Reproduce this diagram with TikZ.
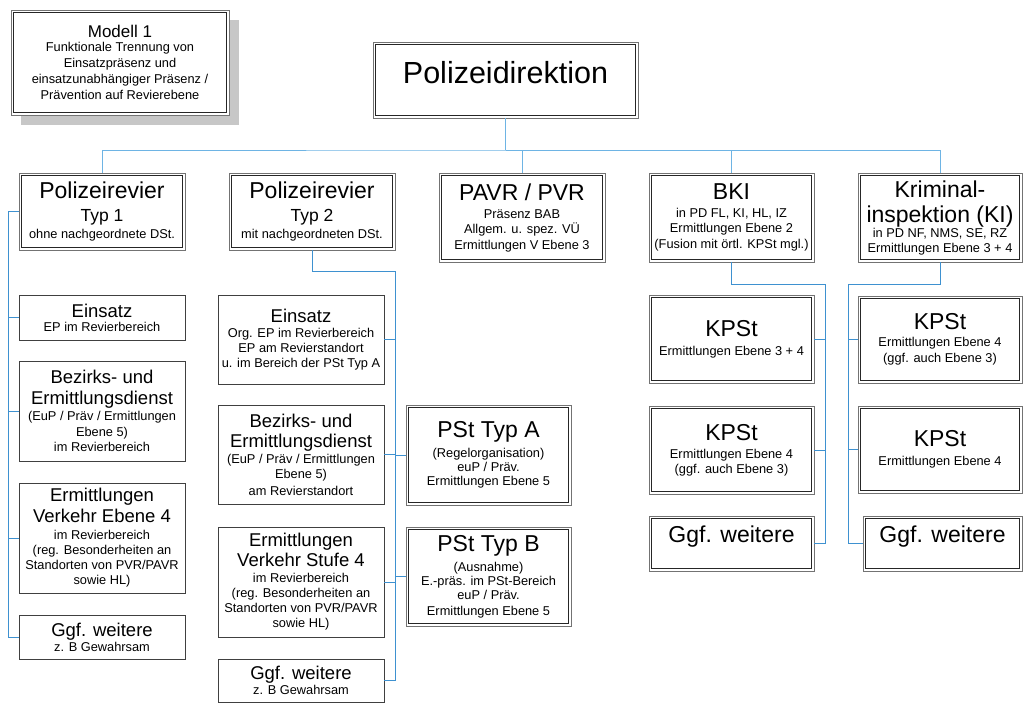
\documentclass[tikz,border=0pt]{standalone}
\usepackage{fontspec}
\setmainfont{Liberation Sans}
\usepackage{tikz}
\usetikzlibrary{shadows}

\definecolor{linkblue}{RGB}{62,145,208}
\definecolor{busblue}{RGB}{110,180,228}

\newcommand{\fpd}{\fontsize{30.5}{34}\selectfont}
\newcommand{\fbig}{\fontsize{23}{26}\selectfont}
\newcommand{\fmodell}{\fontsize{17}{20}\selectfont}
\newcommand{\fmid}{\fontsize{18.5}{21}\selectfont}
\newcommand{\ftyp}{\fontsize{17.5}{20}\selectfont}
\newcommand{\fsmall}{\fontsize{12.8}{15}\selectfont\lineskiplimit=-100pt}

\tikzset{
	box/.style={fill=white, align=center, inner xsep=1pt, inner ysep=1pt, font=\fsmall},
	sbox/.style={box, draw=black!75, line width=0.8pt},
	dbox/.style={box, draw=black!55, line width=0.8pt,
		path picture={\draw[black!85, line width=0.7pt]
			([shift={(2.3pt,2.3pt)}]path picture bounding box.south west) rectangle ([shift={(-2.3pt,-2.3pt)}]path picture bounding box.north east);}},
	link/.style={draw=linkblue, line width=1pt},
	buslink/.style={draw=busblue, line width=1pt},
}

\begin{document}
\begin{tikzpicture}[x=1pt, y=-1pt]
			%%%%% START %%%%%
			\useasboundingbox (0,0) rectangle (1024,705);
			
			\node[dbox, minimum width=218, minimum height=105,
				drop shadow={shadow xshift=10pt, shadow yshift=-10pt, fill=black!22, opacity=1}]
				(modell) at (120,62.5) {{\fmodell Modell 1}\\[-1pt] Funktionale Trennung von\\[1pt] Einsatzpräsenz und\\[1pt] einsatzunabhängiger Präsenz /\\[1pt] Prävention auf Revierebene};
			
			\node[dbox, minimum width=265, minimum height=76, text depth=16pt] (pd) at (505.5,80) {\fpd Polizeidirektion};
			
			% erste Ebene
			\node[dbox, minimum width=166, minimum height=77] (typ1) at (102,211.5) {{\fbig Polizeirevier}\\[8pt] {\ftyp Typ 1}\\[2pt] ohne nachgeordnete DSt.};
			\node[dbox, minimum width=166, minimum height=77] (typ2) at (312,211.5) {{\fbig Polizeirevier}\\[8pt] {\ftyp Typ 2}\\[2pt] mit nachgeordneten DSt.};
			\node[dbox, minimum width=166, minimum height=89] (pavr) at (522,217.5) {{\fbig PAVR / PVR}\\[3pt] Präsenz BAB\\ Allgem. u. spez. VÜ\\[1pt] Ermittlungen V Ebene 3};
			\node[dbox, minimum width=165, minimum height=89] (bki) at (731.5,217.5) {{\fbig BKI}\\[3pt] in PD FL, KI, HL, IZ\\ Ermittlungen Ebene 2\\[1pt] (Fusion mit örtl. KPSt mgl.)};
			\node[dbox, minimum width=164, minimum height=89] (ki) at (940,217.5) {{\fbig Kriminal-}\\[10pt] {\fbig inspektion (KI)}\\[0pt] in PD NF, NMS, SE, RZ\\ Ermittlungen Ebene 3 + 4};
			
			\coordinate (bus) at (505.5,150);
			\draw[buslink] (pd.south) -- (bus);
			\draw[buslink] (typ1.north) |- (bus) -| (ki.north);
			\draw[buslink] (bus) -| (pavr.north);
			\draw[buslink] (bus) -| (bki.north);
			
			% Revier Typ 1
			\node[sbox, minimum width=166, minimum height=45] (e1) at (102,317.5) {{\fmid Einsatz}\\[-1pt] EP im Revierbereich};
			\node[sbox, minimum width=166, minimum height=100] (b1) at (102,411) {{\fmid Bezirks- und}\\[6pt] {\fmid Ermittlungsdienst}\\[1pt] (EuP / Präv / Ermittlungen\\[1pt] Ebene 5)\\ im Revierbereich};
			\node[sbox, minimum width=166, minimum height=110] (v1) at (102,538) {{\fmid Ermittlungen}\\[6pt] {\fmid Verkehr Ebene 4}\\[2pt] im Revierbereich\\ (reg. Besonderheiten an\\ Standorten von PVR/PAVR\\ sowie HL)};
			\node[sbox, minimum width=166, minimum height=44] (g1) at (102,637) {{\fmid Ggf. weitere}\\ z. B Gewahrsam};
			
			\coordinate (s1) at (8,211.5);
			\draw[link] (typ1.west) -- (s1);
			\foreach \c in {e1,b1,v1,g1}
				\draw[link] (s1) |- (\c.west);
			
			% Revier Typ 2
			\node[sbox, minimum width=166, minimum height=89] (e2) at (301,339.5) {{\fmid Einsatz}\\ Org. EP im Revierbereich\\ EP am Revierstandort\\ u. im Bereich der PSt Typ A};
			\node[sbox, minimum width=166, minimum height=99] (b2) at (301,454.5) {{\fmid Bezirks- und}\\[5pt] {\fmid Ermittlungsdienst}\\[1pt] (EuP / Präv / Ermittlungen\\ Ebene 5)\\[2pt] am Revierstandort};
			\node[sbox, minimum width=166, minimum height=110] (v2) at (301,582) {{\fmid Ermittlungen}\\[5pt] {\fmid Verkehr Stufe 4}\\[1pt] im Revierbereich\\ (reg. Besonderheiten an\\ Standorten von PVR/PAVR\\ sowie HL)};
			\node[sbox, minimum width=166, minimum height=43] (g2) at (301,680.5) {{\fmid Ggf. weitere}\\ z. B Gewahrsam};
			
			\node[dbox, minimum width=165, minimum height=100] (pa) at (488.5,455) {{\fbig PSt Typ A}\\[5pt] (Regelorganisation)\\[-1pt] euP / Präv.\\[-1pt] Ermittlungen Ebene 5};
			\node[dbox, minimum width=165, minimum height=99] (pb) at (488.5,576.5) {{\fbig PSt Typ B}\\[5pt] (Ausnahme)\\[-1pt] E.-präs. im PSt-Bereich\\[-1pt] euP / Präv.\\[1pt] Ermittlungen Ebene 5};
			
			\coordinate (s2) at (395,271);
			\draw[link] (typ2.south) |- (s2);
			\foreach \c in {e2,b2,v2,g2}
				\draw[link] (s2) |- (\c.east);
			\foreach \c in {pa,pb}
				\draw[link] (s2) |- (\c.west);
			
			% BKI
			\node[dbox, minimum width=165, minimum height=88] (k1) at (731.5,339) {{\fbig KPSt}\\[4pt] Ermittlungen Ebene 3 + 4};
			\node[dbox, minimum width=165, minimum height=88] (k2) at (731.5,450) {{\fbig KPSt}\\[3pt] Ermittlungen Ebene 4\\ (ggf. auch Ebene 3)};
			\node[dbox, minimum width=165, minimum height=55, text depth=18pt] (g3) at (731.5,543.5) {\fbig Ggf. weitere};
			
			\coordinate (s3) at (825,284);
			\draw[link] (bki.south) |- (s3);
			\foreach \c in {k1,k2,g3}
				\draw[link] (s3) |- (\c.east);
			
			% Kriminalinspektion
			\node[dbox, minimum width=164, minimum height=87] (k3) at (940,339.5) {{\fbig KPSt}\\[2pt] Ermittlungen Ebene 4\\[1pt] (ggf. auch Ebene 3)};
			\node[dbox, minimum width=164, minimum height=87] (k4) at (940,449.5) {{\fbig KPSt}\\[4pt] Ermittlungen Ebene 4};
			\node[dbox, minimum width=159, minimum height=55, text depth=18pt] (g4) at (942.5,543.5) {\fbig Ggf. weitere};
			
			\coordinate (s4) at (848,284);
			\draw[link] (ki.south) |- (s4);
			\foreach \c in {k3,k4,g4}
				\draw[link] (s4) |- (\c.west);
			
			%%%%% END %%%%%
\end{tikzpicture}
\end{document}
